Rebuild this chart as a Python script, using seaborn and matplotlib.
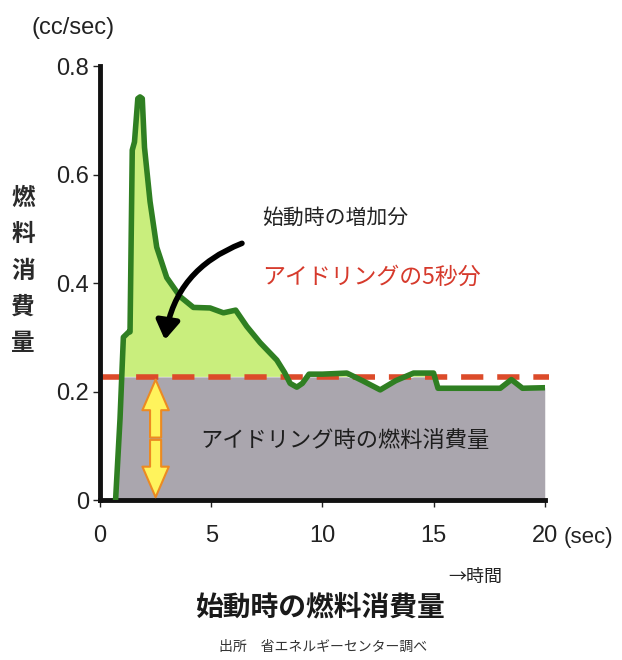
import numpy as np
import pandas as pd
import matplotlib
matplotlib.use("Agg")
import matplotlib.pyplot as plt
import seaborn as sns

# 始動時の燃料消費量 (cc/sec) を画像から読み取り
time_sec = [0.7, 0.9, 1.05, 1.3, 1.35, 1.45, 1.55, 1.7, 1.8, 1.9, 2.0, 2.25, 2.55, 3.0,
            3.6, 4.2, 4.95, 5.55, 6.1, 6.6, 7.2, 7.95, 8.3, 8.55, 8.85, 9.1, 9.4, 10.0,
            11.1, 11.8, 12.6, 13.3, 14.1, 15.0, 15.2, 16.0, 17.0, 18.0, 18.5, 19.0, 20.0]
fuel = [0.0, 0.15, 0.30, 0.31, 0.31, 0.645, 0.66, 0.74, 0.743, 0.74, 0.65, 0.55, 0.466, 0.41,
        0.375, 0.355, 0.354, 0.345, 0.35, 0.32, 0.29, 0.258, 0.235, 0.215, 0.208, 0.215, 0.232, 0.232,
        0.234, 0.22, 0.203, 0.22, 0.234, 0.234, 0.206, 0.206, 0.206, 0.206, 0.222, 0.206, 0.207]
idle_level = 0.227

x_ticks = [0, 5, 10, 15, 20]
y_ticks = [0, 0.2, 0.4, 0.6, 0.8]
y_ticklabels = ["0", "0.2", "0.4", "0.6", "0.8"]

df = pd.DataFrame({"time": time_sec, "fuel": fuel})

sns.set_style("white")
plt.rcParams['font.family'] = ['Noto Sans CJK JP', 'DejaVu Sans']
num_font = ['Liberation Sans', 'DejaVu Sans']

fig = plt.figure(figsize=(6.22, 6.60), dpi=100)
ax = fig.add_axes([0.1608, 0.2424, 0.715, 0.6576])

t = np.array(time_sec)
f = np.array(fuel)
# 灰色: アイドリング分, 黄緑: 増加分
ax.fill_between(t, 0, np.minimum(f, idle_level), color='#aaa6ae', lw=0, zorder=1)
ax.fill_between(t, idle_level, f, where=f > idle_level, interpolate=True,
                color='#c9ee7d', lw=0, zorder=1)
ax.plot([0, 20.2], [idle_level, idle_level], color='#dc4b2a', lw=4,
        dashes=(4, 2.5), clip_on=False, zorder=2)
sns.lineplot(data=df, x="time", y="fuel", color='#2f7f22', lw=4, ax=ax, zorder=3)

# 両矢印
arrow_kw = dict(arrowstyle='simple,head_width=1.9,head_length=2.2,tail_width=0.8',
                fc='#fff35c', ec='#ec8a22', lw=1.5)
ax.annotate('', xy=(2.5, 0.0), xytext=(2.5, 0.116), arrowprops=arrow_kw, zorder=4)
ax.annotate('', xy=(2.5, idle_level), xytext=(2.5, 0.11), arrowprops=arrow_kw, zorder=4)

# 曲がった矢印
ax.annotate('', xy=(2.9, 0.29), xytext=(6.5, 0.475),
            arrowprops=dict(arrowstyle='-|>,head_width=0.7,head_length=1.1',
                            connectionstyle='arc3,rad=0.3', lw=4, color='black'),
            zorder=5)

ax.text(7.3, 0.52, '始動時の増加分', fontsize=15, color='#222222', va='center', ha='left')
ax.text(7.3, 0.411, 'アイドリングの5秒分', fontsize=16.5, color='#d63a2c', va='center', ha='left')
ax.text(11.0, 0.11, 'アイドリング時の燃料消費量', fontsize=16, color='#1e1e1e',
        va='center', ha='center', zorder=6)

ax.set_xlim(0, 20)
ax.set_ylim(0, 0.8)
ax.set_xticks(x_ticks)
ax.set_xticklabels([str(v) for v in x_ticks], fontsize=17, family=num_font, color='#222222')
ax.set_yticks(y_ticks)
ax.set_yticklabels(y_ticklabels, fontsize=17, family=num_font, color='#222222')
ax.tick_params(axis='both', direction='out', length=5, width=1, color='#222222',
               left=True, bottom=True, pad=3)
ax.tick_params(axis='x', pad=13)
ax.set_xlabel('')
ax.set_ylabel('')
for side in ['top', 'right']:
    ax.spines[side].set_visible(False)
for side in ['left', 'bottom']:
    ax.spines[side].set_linewidth(3.5)
    ax.spines[side].set_color('#111111')

fig.text(0.037, 0.59, '燃\n料\n消\n費\n量', fontsize=17, fontweight='bold', ha='center',
         va='center', linespacing=1.65, color='#2a2a2a')
fig.text(0.118, 0.957, '(cc/sec)', fontsize=17, family=num_font, ha='center', va='center',
         color='#222222')
fig.text(0.946, 0.186, '(sec)', fontsize=16, family=num_font, ha='center', va='center',
         color='#222222')
fig.text(0.764, 0.126, '→時間', fontsize=13, ha='center', va='center', color='#222222')
fig.text(0.515, 0.079, '始動時の燃料消費量', fontsize=20, fontweight='bold', ha='center',
         va='center', color='#1a1a1a')
fig.text(0.52, 0.02, '出所　省エネルギーセンター調べ', fontsize=10, ha='center', va='center',
         color='#333333')

fig.savefig('out.png', dpi=100)
